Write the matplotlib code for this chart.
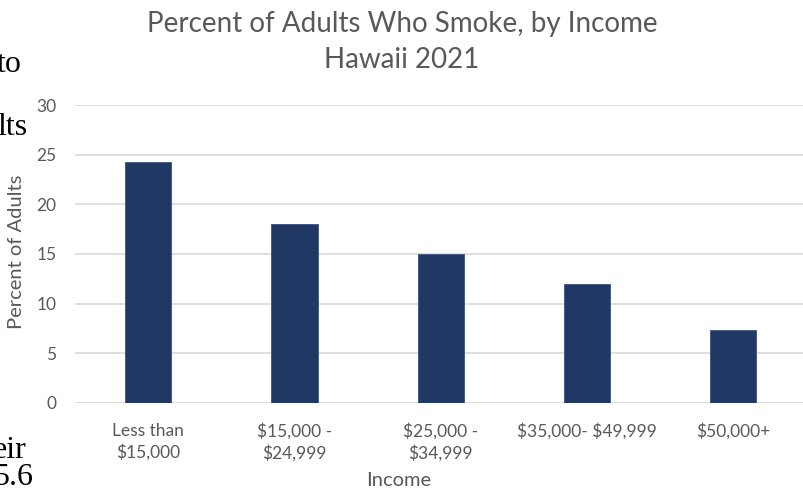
import matplotlib
matplotlib.use("Agg")
import matplotlib.pyplot as plt

categories = ["Less than\n$15,000", "$15,000 -\n$24,999", "$25,000 -\n$34,999",
              "$35,000- $49,999", "$50,000+"]
values = [24.3, 18.0, 15.0, 12.0, 7.3]
yticks = [0, 5, 10, 15, 20, 25, 30]
title_lines = ["Percent of Adults Who Smoke, by Income", "Hawaii 2021"]
ylabel = "Percent of Adults"
xlabel = "Income"
background_fragments = [("to", 22, 72), ("lts", 28, 135), ("eir", 27, 458), ("5.6", 33, 485)]

TXT = "#595959"
BAR = "#203864"
GRID = "#D9D9D9"
FONT = "Lato"

W, H = 804, 488
fig = plt.figure(figsize=(W / 100, H / 100), dpi=100)
fig.patch.set_facecolor("white")

left, right, bottom, top = 75.3, 806.0, 402.7, 105.3
ax = fig.add_axes([left / W, 1 - bottom / H, (right - left) / W, (bottom - top) / H])
ax.set_facecolor("none")

x = list(range(len(categories)))
ax.bar(x, values, width=0.315, color=BAR, edgecolor="#3a5280", linewidth=0.6, zorder=3)
ax.set_xlim(-0.5, len(categories) - 0.5)
ax.set_ylim(0, 30)
ax.set_yticks(yticks)
ax.yaxis.grid(True, color=GRID, linewidth=1.2, zorder=0)
ax.set_axisbelow(True)
for s in ax.spines.values():
    s.set_visible(False)
ax.tick_params(axis="both", length=0, colors=TXT)
ax.tick_params(axis="y", pad=13.5)
ax.tick_params(axis="x", pad=14.5)
ax.set_xticks(x)
ax.set_xticklabels(categories, fontsize=12.5, family=FONT, color=TXT, linespacing=1.35,
                   va="top", parse_math=False)
for lbl in ax.get_yticklabels():
    lbl.set_fontsize(12.5)
    lbl.set_family(FONT)
    lbl.set_color(TXT)

fig.text(402 / W, 1 - 31.7 / H, title_lines[0], ha="center", va="baseline", fontsize=20,
         family=FONT, color=TXT)
fig.text(401.5 / W, 1 - 68.3 / H, title_lines[1], ha="center", va="baseline", fontsize=20,
         family=FONT, color=TXT)
fig.text(17 / W, 1 - 252 / H, ylabel, rotation=90, ha="center", va="center",
         fontsize=14.5, family=FONT, color=TXT)
fig.text(398.5 / W, 1 - 486 / H, xlabel, ha="center", va="baseline", fontsize=14.5,
         family=FONT, color=TXT)

for txt, xr, yb in background_fragments:
    fig.text(xr / W, 1 - yb / H, txt, ha="right", va="baseline", fontsize=23,
             family="Liberation Serif", color="black")

fig.savefig("out.png", dpi=100, facecolor="white")
